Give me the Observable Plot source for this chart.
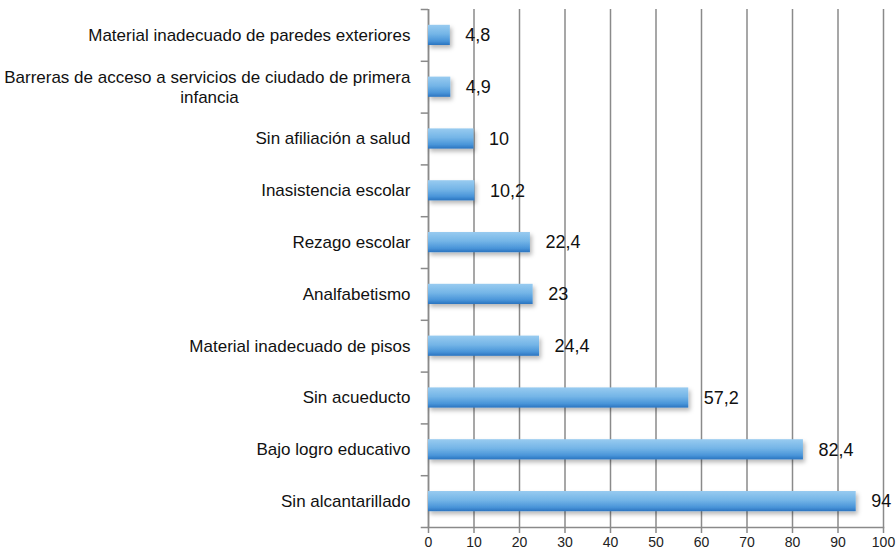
<!DOCTYPE html>
<html>
<head>
<meta charset="utf-8">
<script src="https://cdn.jsdelivr.net/npm/d3@7"></script>
<script src="https://cdn.jsdelivr.net/npm/@observablehq/plot@0.6"></script>
<style>
  html, body { margin: 0; padding: 0; background: #fff; }
  #chart svg { display: block; }
</style>
</head>
<body>
<div id="chart"></div>
<script>
const categories = [
  "Material inadecuado de paredes exteriores",
  "Barreras de acceso a servicios de ciudado de primera infancia",
  "Sin afiliación a salud",
  "Inasistencia escolar",
  "Rezago escolar",
  "Analfabetismo",
  "Material inadecuado de pisos",
  "Sin acueducto",
  "Bajo logro educativo",
  "Sin alcantarillado"
];
const values = [4.8, 4.9, 10, 10.2, 22.4, 23, 24.4, 57.2, 82.4, 94];
const xTicks = [0, 10, 20, 30, 40, 50, 60, 70, 80, 90, 100];

const data = categories.map((c, i) => ({category: c, value: values[i]}));
const fmt = v => String(v).replace(".", ",");
const twoLine = categories[1];
const singleLabels = categories.filter(c => c !== twoLine);

const font = "'Liberation Sans', Arial, sans-serif";
const axisColor = "#8a8a8a";

const plot = Plot.plot({
  width: 896,
  height: 551,
  marginLeft: 428,
  marginRight: 13,
  marginTop: 9,
  marginBottom: 24,
  style: {fontFamily: font, background: "#fff", overflow: "visible"},
  x: {domain: [0, 100], ticks: xTicks, label: null},
  y: {domain: categories, paddingInner: 0.61, paddingOuter: 0.305, align: 0.5, round: false, label: null, axis: null},
  marks: [
    Plot.gridX(xTicks, {stroke: axisColor, strokeOpacity: 1, strokeWidth: 1.5}),
    Plot.axisX(xTicks, {tickSize: 6, stroke: axisColor, strokeWidth: 1.5, fontSize: 14, fill: "#222", tickPadding: 4}),
    Plot.frame({anchor: "bottom", stroke: axisColor, strokeWidth: 1.5}),
    Plot.ruleX([0], {stroke: axisColor, strokeWidth: 1.5}),
    // y tick marks at band boundaries
    Plot.ruleY(categories, {y: d => d, dy: -25.9, x1: -1.6, x2: 0, stroke: axisColor, strokeWidth: 1.5, clip: false}),
    Plot.ruleY([categories[categories.length - 1]], {y: d => d, dy: 25.9, x1: -1.6, x2: 0, stroke: axisColor, strokeWidth: 1.5, clip: false}),
    Plot.barX(data, {y: "category", x: "value", fill: "url(#barGrad)", className: "bars"}),
    Plot.text(data, {y: "category", x: "value", text: d => fmt(d.value), textAnchor: "start", dx: 15, fontSize: 18, fill: "#111"}),
    Plot.text(singleLabels, {y: d => d, frameAnchor: "left", textAnchor: "end", dx: -18, fontSize: 17, fill: "#111"}),
    Plot.text([twoLine], {y: d => d, frameAnchor: "left", text: () => "Barreras de acceso a servicios de ciudado de primera", textAnchor: "end", dx: -18, dy: -10, fontSize: 17, fill: "#111"}),
    Plot.text([twoLine], {y: d => d, frameAnchor: "left", text: () => "infancia", textAnchor: "middle", dx: -219, dy: 10, fontSize: 17, fill: "#111"})
  ]
});

const svg = d3.select(plot);
const defs = svg.insert("defs", ":first-child");
const grad = defs.append("linearGradient").attr("id", "barGrad").attr("x1", 0).attr("y1", 0).attr("x2", 0).attr("y2", 1);
grad.append("stop").attr("offset", "0%").attr("stop-color", "#98cbf0");
grad.append("stop").attr("offset", "45%").attr("stop-color", "#74b5e7");
grad.append("stop").attr("offset", "80%").attr("stop-color", "#4a95d9");
grad.append("stop").attr("offset", "100%").attr("stop-color", "#2a74c0");
const filt = defs.append("filter").attr("id", "shadow").attr("x", "-5%").attr("y", "-30%").attr("width", "120%").attr("height", "180%");
filt.append("feDropShadow").attr("dx", 2).attr("dy", 3).attr("stdDeviation", 2).attr("flood-color", "#000").attr("flood-opacity", 0.28);
svg.select("g.bars").attr("filter", "url(#shadow)");

document.getElementById("chart").appendChild(plot);
</script>
</body>
</html>
